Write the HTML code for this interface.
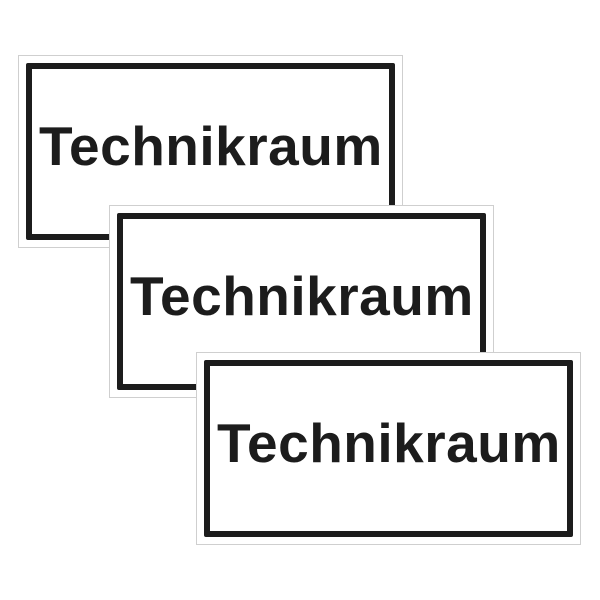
<!DOCTYPE html>
<html><head><style>
html,body{margin:0;padding:0;background:#fff;width:600px;height:600px;overflow:hidden}
.s{position:absolute;width:385px;height:193px;background:#fff;border:1px solid #cfcfcf;box-sizing:border-box}
.b{position:absolute;left:7px;top:7px;right:7px;bottom:7px;border:6px solid #1c1c1c;border-radius:2px}
.t{position:absolute;left:20px;top:55px;font:bold 55px "Liberation Sans",sans-serif;color:#1c1c1c;line-height:70px;white-space:nowrap;letter-spacing:0.5px}
</style></head><body>
<div class="s" style="left:18px;top:55px"><div class="b"></div><div class="t">Technikraum</div></div>
<div class="s" style="left:109px;top:205px"><div class="b"></div><div class="t">Technikraum</div></div>
<div class="s" style="left:196px;top:352px"><div class="b"></div><div class="t">Technikraum</div></div>
</body></html>
